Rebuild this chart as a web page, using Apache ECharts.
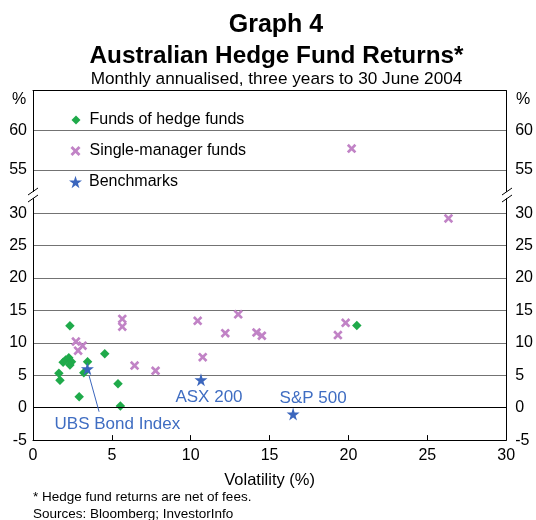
<!DOCTYPE html>
<html>
<head>
<meta charset="utf-8">
<script src="https://cdn.jsdelivr.net/npm/echarts@6/dist/echarts.min.js"></script>
<style>
  html, body { margin: 0; padding: 0; background: #fff; }
  #main { width: 536px; height: 520px; }
</style>
</head>
<body>
<div id="main"></div>
<script>
// [volatility %, return %]
var fundsOfFunds = [
  [2.34, 12.65], [4.55, 8.33], [2.07, 7.36], [2.27, 7.72],
  [2.44, 7.1], [2.34, 6.59], [1.91, 7.0], [3.46, 7.1], [1.64, 5.3],
  [1.71, 4.23], [3.22, 5.4], [2.93, 1.7], [5.39, 3.7], [5.54, 0.26],
  [20.53, 12.7]
];
var singleManager = [
  [2.72, 10.2], [2.86, 8.8], [3.14, 9.57], [5.66, 13.7], [5.66, 12.5],
  [6.44, 6.5], [7.77, 5.7], [10.44, 13.4], [10.76, 7.8], [12.19, 11.5],
  [13.01, 14.4], [14.17, 11.6], [14.51, 11.1], [19.33, 11.2], [19.82, 13.1],
  [26.34, 29.2]
];
var singleManagerHigh = [[20.2, 57.7]];
var benchmarkNames = ['UBS Bond Index', 'ASX 200', 'S&P 500'];
var benchmarks = [[3.45, 6.0], [10.65, 4.3], [16.49, -0.97]];

var yTicksHigh = [55, 60];
var yTicksLow = [-5, 0, 5, 10, 15, 20, 25, 30];

var GREEN = '#1faa4a';
var PURPLE = '#c183c6';
var BLUE = '#3b66bd';
var TXTBLUE = '#3f6dc2';
var FONT = '"Liberation Sans", Arial, sans-serif';

var CROSS = 'path://M0,2 L2,0 L5,3 L8,0 L10,2 L7,5 L10,8 L8,10 L5,7 L2,10 L0,8 L3,5 Z';
var STAR = 'path://M50,0 L61,35 L98,35 L68,57 L79,91 L50,70 L21,91 L32,57 L2,35 L39,35 Z';

var chart = echarts.init(document.getElementById('main'), null, { renderer: 'canvas' });

function yAxisOf(grid, pos, min, max, ticks, showSplit) {
  return {
    type: 'value',
    gridIndex: grid,
    position: pos,
    min: min,
    max: max,
    axisLine: { show: true, lineStyle: { color: '#000', width: 1 } },
    axisTick: { show: false, customValues: ticks },
    axisLabel: {
      customValues: ticks,
      color: '#000',
      fontSize: 16,
      fontFamily: FONT,
      margin: pos === 'left' ? 6 : 9
    },
    splitLine: { show: showSplit, lineStyle: { color: '#737373', width: 1 } }
  };
}

// label offsets for benchmark names, px from the star
var labelOffsets = [[30, 56], [8, 17], [20, -16]];

var option = {
  animation: false,
  backgroundColor: '#fff',
  textStyle: { fontFamily: FONT },
  title: [
    { text: 'Graph 4', left: 271, top: 7.5, textAlign: 'center',
      textStyle: { fontSize: 25, fontWeight: 'bold', color: '#000', fontFamily: FONT } },
    { text: 'Australian Hedge Fund Returns*', left: 271.5, top: 39.5, textAlign: 'center',
      textStyle: { fontSize: 24.3, fontWeight: 'bold', color: '#000', fontFamily: FONT } },
    { text: 'Monthly annualised, three years to 30 June 2004', left: 271.5, top: 65.5, textAlign: 'center',
      textStyle: { fontSize: 17.2, fontWeight: 'normal', color: '#000', fontFamily: FONT } }
  ],
  legend: [
    { data: ['Funds of hedge funds'], orient: 'vertical', left: 71.5, top: 111, padding: 0,
      itemWidth: 9, itemHeight: 9,
      textStyle: { fontSize: 16, color: '#000', fontFamily: FONT, padding: [0, 0, 0, 4], lineHeight: 18 } },
    { data: ['Single-manager funds'], orient: 'vertical', left: 70.5, top: 142, padding: 0,
      itemWidth: 10, itemHeight: 10,
      textStyle: { fontSize: 16, color: '#000', fontFamily: FONT, padding: [0, 0, 0, 4], lineHeight: 18 } },
    { data: ['Benchmarks'], orient: 'vertical', left: 69, top: 173, padding: 0,
      itemWidth: 13, itemHeight: 13,
      textStyle: { fontSize: 16, color: '#000', fontFamily: FONT, padding: [0, 0, 0, 2], lineHeight: 18 } }
  ],
  grid: [
    { left: 33, right: 29, top: 90.6, height: 100.9 },
    { left: 33, right: 29, top: 198.5, height: 241.6 }
  ],
  xAxis: [
    { type: 'value', gridIndex: 0, position: 'top', min: 0, max: 30,
      axisLine: { show: true, lineStyle: { color: '#000', width: 1 } },
      axisTick: { show: false }, axisLabel: { show: false }, splitLine: { show: false } },
    { type: 'value', gridIndex: 1, position: 'bottom', min: 0, max: 30, interval: 5,
      axisLine: { show: true, onZero: false, lineStyle: { color: '#000', width: 1 } },
      axisTick: { show: true, inside: true, length: 5, lineStyle: { color: '#000' } },
      axisLabel: { color: '#000', fontSize: 16, fontFamily: FONT, margin: 7 },
      splitLine: { show: false },
      name: 'Volatility (%)', nameLocation: 'middle', nameGap: 32,
      nameTextStyle: { color: '#000', fontSize: 16.5, fontFamily: FONT } }
  ],
  yAxis: [
    yAxisOf(0, 'left', 52.29, 65, yTicksHigh, true),
    yAxisOf(0, 'right', 52.29, 65, yTicksHigh, false),
    yAxisOf(1, 'left', -5, 32.28, yTicksLow, true),
    yAxisOf(1, 'right', -5, 32.28, yTicksLow, false)
  ],
  graphic: [
    { type: 'text', left: 12, top: 92, style: { text: '%', fill: '#000', font: '16px ' + FONT } },
    { type: 'text', left: 516, top: 92, style: { text: '%', fill: '#000', font: '16px ' + FONT } },
    { type: 'line', shape: { x1: 28, y1: 195, x2: 38, y2: 188 }, style: { stroke: '#000', lineWidth: 1 } },
    { type: 'line', shape: { x1: 28, y1: 202, x2: 38, y2: 195 }, style: { stroke: '#000', lineWidth: 1 } },
    { type: 'line', shape: { x1: 502, y1: 195, x2: 512, y2: 188 }, style: { stroke: '#000', lineWidth: 1 } },
    { type: 'line', shape: { x1: 502, y1: 202, x2: 512, y2: 195 }, style: { stroke: '#000', lineWidth: 1 } },
    { type: 'text', left: 33, top: 490, style: { text: '* Hedge fund returns are net of fees.', fill: '#000', font: '13.5px ' + FONT } },
    { type: 'text', left: 33, top: 507, style: { text: 'Sources: Bloomberg; InvestorInfo', fill: '#000', font: '13.5px ' + FONT } }
  ],
  series: [
    {
      name: 'Single-manager funds', type: 'scatter', xAxisIndex: 0, yAxisIndex: 0,
      symbol: CROSS, symbolSize: 9.5, itemStyle: { color: PURPLE, opacity: 1 },
      data: singleManagerHigh
    },
    {
      name: 'Single-manager funds', type: 'scatter', xAxisIndex: 1, yAxisIndex: 2,
      symbol: CROSS, symbolSize: 9.5, itemStyle: { color: PURPLE, opacity: 1 },
      data: singleManager
    },
    {
      name: 'Funds of hedge funds', type: 'scatter', xAxisIndex: 1, yAxisIndex: 2,
      symbol: 'diamond', symbolSize: 9.5, itemStyle: { color: GREEN, opacity: 1 },
      data: fundsOfFunds,
      markLine: {
        silent: true, symbol: ['none', 'none'], label: { show: false },
        lineStyle: { color: '#000', type: 'solid', width: 1 },
        data: [{ yAxis: 0 }]
      }
    },
    {
      name: 'Benchmarks', type: 'scatter', xAxisIndex: 1, yAxisIndex: 2,
      symbol: STAR, symbolSize: 13, itemStyle: { color: BLUE, opacity: 1 },
      data: benchmarks.map(function (v, i) {
        return {
          name: benchmarkNames[i],
          value: v,
          label: {
            show: true, position: 'inside', offset: labelOffsets[i],
            formatter: '{b}', color: TXTBLUE, fontSize: 17, fontFamily: FONT
          }
        };
      }),
      markLine: {
        silent: true, symbol: ['none', 'arrow'], symbolSize: [0, 8],
        label: { show: false },
        lineStyle: { color: BLUE, type: 'solid', width: 1 },
        data: [[{ coord: [4.19, -0.62] }, { coord: [3.56, 4.9] }]]
      }
    }
  ]
};

chart.setOption(option);
</script>
</body>
</html>
